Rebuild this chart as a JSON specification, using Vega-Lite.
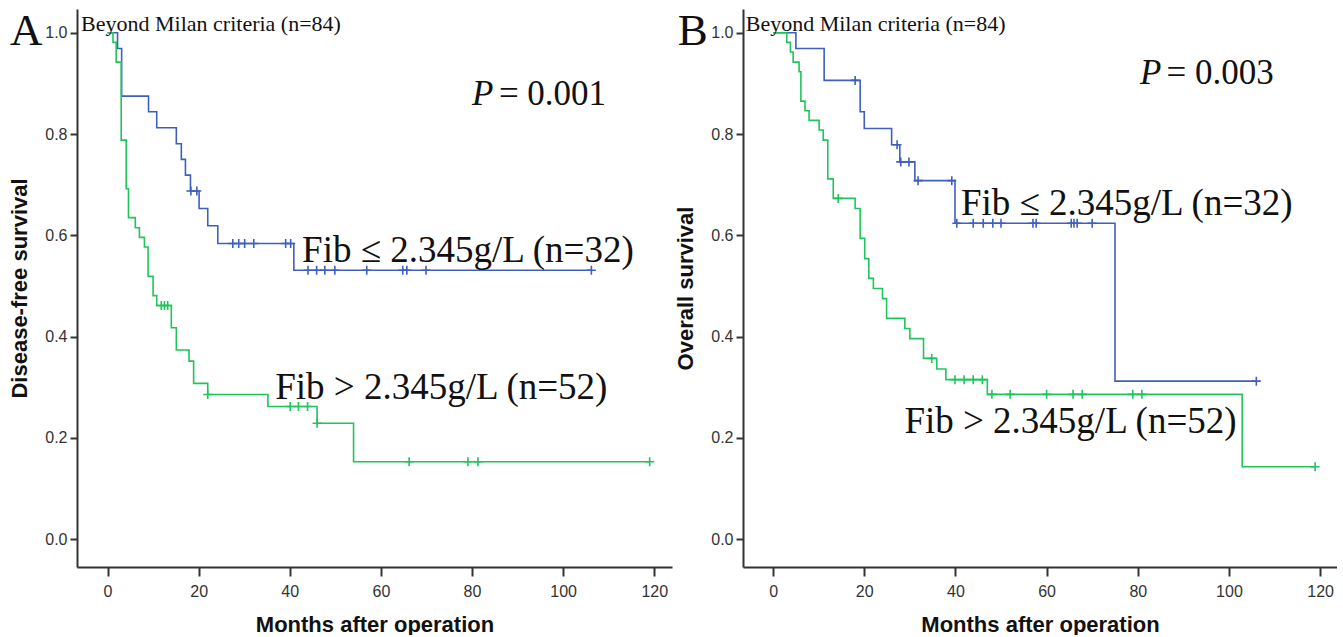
{
  "$schema": "https://vega.github.io/schema/vega-lite/v6.json",
  "autosize": {"type": "pad"},
  "padding": {"left": 8, "top": 9, "right": 0, "bottom": 0},
  "background": "white",
  "bounds": "flush",
  "spacing": 71,
  "datasets": {
    "lines": [
      {"panel": "A", "grp": "low", "t": 0, "s": 1},
      {"panel": "A", "grp": "low", "t": 2.2, "s": 0.969},
      {"panel": "A", "grp": "low", "t": 3.1, "s": 0.875},
      {"panel": "A", "grp": "low", "t": 9.0, "s": 0.844},
      {"panel": "A", "grp": "low", "t": 10.8, "s": 0.8125},
      {"panel": "A", "grp": "low", "t": 15.1, "s": 0.781},
      {"panel": "A", "grp": "low", "t": 16.2, "s": 0.75},
      {"panel": "A", "grp": "low", "t": 17.1, "s": 0.719},
      {"panel": "A", "grp": "low", "t": 18.2, "s": 0.6875},
      {"panel": "A", "grp": "low", "t": 20.1, "s": 0.653},
      {"panel": "A", "grp": "low", "t": 22.0, "s": 0.619},
      {"panel": "A", "grp": "low", "t": 24.2, "s": 0.584},
      {"panel": "A", "grp": "low", "t": 40.9, "s": 0.531},
      {"panel": "A", "grp": "low", "t": 106.2, "s": 0.531},
      {"panel": "A", "grp": "high", "t": 0, "s": 1},
      {"panel": "A", "grp": "high", "t": 1.2, "s": 0.981},
      {"panel": "A", "grp": "high", "t": 1.9, "s": 0.942},
      {"panel": "A", "grp": "high", "t": 3.0, "s": 0.788},
      {"panel": "A", "grp": "high", "t": 4.1, "s": 0.692},
      {"panel": "A", "grp": "high", "t": 4.6, "s": 0.635},
      {"panel": "A", "grp": "high", "t": 6.1, "s": 0.615},
      {"panel": "A", "grp": "high", "t": 7.0, "s": 0.596},
      {"panel": "A", "grp": "high", "t": 8.1, "s": 0.577},
      {"panel": "A", "grp": "high", "t": 8.9, "s": 0.519},
      {"panel": "A", "grp": "high", "t": 10.0, "s": 0.481},
      {"panel": "A", "grp": "high", "t": 10.8, "s": 0.4615},
      {"panel": "A", "grp": "high", "t": 14.0, "s": 0.4176},
      {"panel": "A", "grp": "high", "t": 15.1, "s": 0.3736},
      {"panel": "A", "grp": "high", "t": 17.9, "s": 0.3516},
      {"panel": "A", "grp": "high", "t": 18.9, "s": 0.3077},
      {"panel": "A", "grp": "high", "t": 22.0, "s": 0.2857},
      {"panel": "A", "grp": "high", "t": 35.2, "s": 0.262},
      {"panel": "A", "grp": "high", "t": 46.0, "s": 0.229},
      {"panel": "A", "grp": "high", "t": 54.0, "s": 0.153},
      {"panel": "A", "grp": "high", "t": 119.0, "s": 0.153},
      {"panel": "B", "grp": "low", "t": 0, "s": 1},
      {"panel": "B", "grp": "low", "t": 5.0, "s": 0.969},
      {"panel": "B", "grp": "low", "t": 11.2, "s": 0.906},
      {"panel": "B", "grp": "low", "t": 19.1, "s": 0.844},
      {"panel": "B", "grp": "low", "t": 20.0, "s": 0.811},
      {"panel": "B", "grp": "low", "t": 26.0, "s": 0.779},
      {"panel": "B", "grp": "low", "t": 27.8, "s": 0.745},
      {"panel": "B", "grp": "low", "t": 31.1, "s": 0.708},
      {"panel": "B", "grp": "low", "t": 39.9, "s": 0.624},
      {"panel": "B", "grp": "low", "t": 75.0, "s": 0.312},
      {"panel": "B", "grp": "low", "t": 106.0, "s": 0.312},
      {"panel": "B", "grp": "high", "t": 0, "s": 1},
      {"panel": "B", "grp": "high", "t": 3.0, "s": 0.981},
      {"panel": "B", "grp": "high", "t": 3.8, "s": 0.962},
      {"panel": "B", "grp": "high", "t": 4.4, "s": 0.942},
      {"panel": "B", "grp": "high", "t": 5.7, "s": 0.923},
      {"panel": "B", "grp": "high", "t": 6.1, "s": 0.865},
      {"panel": "B", "grp": "high", "t": 7.0, "s": 0.846},
      {"panel": "B", "grp": "high", "t": 7.9, "s": 0.827},
      {"panel": "B", "grp": "high", "t": 10.1, "s": 0.808},
      {"panel": "B", "grp": "high", "t": 11.0, "s": 0.788},
      {"panel": "B", "grp": "high", "t": 12.0, "s": 0.7115},
      {"panel": "B", "grp": "high", "t": 13.2, "s": 0.673},
      {"panel": "B", "grp": "high", "t": 18.0, "s": 0.653},
      {"panel": "B", "grp": "high", "t": 19.1, "s": 0.594},
      {"panel": "B", "grp": "high", "t": 20.1, "s": 0.554},
      {"panel": "B", "grp": "high", "t": 21.0, "s": 0.515},
      {"panel": "B", "grp": "high", "t": 22.0, "s": 0.495},
      {"panel": "B", "grp": "high", "t": 24.0, "s": 0.475},
      {"panel": "B", "grp": "high", "t": 24.9, "s": 0.436},
      {"panel": "B", "grp": "high", "t": 28.9, "s": 0.416},
      {"panel": "B", "grp": "high", "t": 30.0, "s": 0.396},
      {"panel": "B", "grp": "high", "t": 33.0, "s": 0.357},
      {"panel": "B", "grp": "high", "t": 35.9, "s": 0.336},
      {"panel": "B", "grp": "high", "t": 37.9, "s": 0.315},
      {"panel": "B", "grp": "high", "t": 47.0, "s": 0.286},
      {"panel": "B", "grp": "high", "t": 102.9, "s": 0.143},
      {"panel": "B", "grp": "high", "t": 118.9, "s": 0.143}
    ],
    "cens": [
      {"panel": "A", "grp": "low", "t": 18.3, "s": 0.6875},
      {"panel": "A", "grp": "low", "t": 19.6, "s": 0.6875},
      {"panel": "A", "grp": "low", "t": 27.5, "s": 0.584},
      {"panel": "A", "grp": "low", "t": 28.8, "s": 0.584},
      {"panel": "A", "grp": "low", "t": 30.1, "s": 0.584},
      {"panel": "A", "grp": "low", "t": 32.1, "s": 0.584},
      {"panel": "A", "grp": "low", "t": 39.1, "s": 0.584},
      {"panel": "A", "grp": "low", "t": 40.2, "s": 0.584},
      {"panel": "A", "grp": "low", "t": 44.0, "s": 0.531},
      {"panel": "A", "grp": "low", "t": 45.9, "s": 0.531},
      {"panel": "A", "grp": "low", "t": 47.7, "s": 0.531},
      {"panel": "A", "grp": "low", "t": 49.9, "s": 0.531},
      {"panel": "A", "grp": "low", "t": 56.9, "s": 0.531},
      {"panel": "A", "grp": "low", "t": 64.8, "s": 0.531},
      {"panel": "A", "grp": "low", "t": 65.7, "s": 0.531},
      {"panel": "A", "grp": "low", "t": 69.9, "s": 0.531},
      {"panel": "A", "grp": "low", "t": 106.2, "s": 0.531},
      {"panel": "A", "grp": "high", "t": 11.8, "s": 0.4615},
      {"panel": "A", "grp": "high", "t": 12.5, "s": 0.4615},
      {"panel": "A", "grp": "high", "t": 13.2, "s": 0.4615},
      {"panel": "A", "grp": "high", "t": 22.0, "s": 0.2857},
      {"panel": "A", "grp": "high", "t": 40.1, "s": 0.262},
      {"panel": "A", "grp": "high", "t": 41.9, "s": 0.262},
      {"panel": "A", "grp": "high", "t": 43.9, "s": 0.262},
      {"panel": "A", "grp": "high", "t": 46.0, "s": 0.229},
      {"panel": "A", "grp": "high", "t": 66.2, "s": 0.153},
      {"panel": "A", "grp": "high", "t": 79.1, "s": 0.153},
      {"panel": "A", "grp": "high", "t": 81.3, "s": 0.153},
      {"panel": "A", "grp": "high", "t": 119.0, "s": 0.153},
      {"panel": "B", "grp": "low", "t": 18.0, "s": 0.906},
      {"panel": "B", "grp": "low", "t": 27.2, "s": 0.779},
      {"panel": "B", "grp": "low", "t": 28.0, "s": 0.745},
      {"panel": "B", "grp": "low", "t": 29.8, "s": 0.745},
      {"panel": "B", "grp": "low", "t": 31.8, "s": 0.708},
      {"panel": "B", "grp": "low", "t": 39.2, "s": 0.708},
      {"panel": "B", "grp": "low", "t": 40.3, "s": 0.624},
      {"panel": "B", "grp": "low", "t": 43.9, "s": 0.624},
      {"panel": "B", "grp": "low", "t": 46.1, "s": 0.624},
      {"panel": "B", "grp": "low", "t": 48.2, "s": 0.624},
      {"panel": "B", "grp": "low", "t": 50.0, "s": 0.624},
      {"panel": "B", "grp": "low", "t": 57.0, "s": 0.624},
      {"panel": "B", "grp": "low", "t": 57.7, "s": 0.624},
      {"panel": "B", "grp": "low", "t": 65.4, "s": 0.624},
      {"panel": "B", "grp": "low", "t": 66.0, "s": 0.624},
      {"panel": "B", "grp": "low", "t": 66.7, "s": 0.624},
      {"panel": "B", "grp": "low", "t": 70.0, "s": 0.624},
      {"panel": "B", "grp": "low", "t": 106.0, "s": 0.312},
      {"panel": "B", "grp": "high", "t": 14.3, "s": 0.673},
      {"panel": "B", "grp": "high", "t": 34.8, "s": 0.357},
      {"panel": "B", "grp": "high", "t": 39.9, "s": 0.315},
      {"panel": "B", "grp": "high", "t": 41.9, "s": 0.315},
      {"panel": "B", "grp": "high", "t": 43.9, "s": 0.315},
      {"panel": "B", "grp": "high", "t": 45.9, "s": 0.315},
      {"panel": "B", "grp": "high", "t": 48.0, "s": 0.286},
      {"panel": "B", "grp": "high", "t": 52.0, "s": 0.286},
      {"panel": "B", "grp": "high", "t": 60.0, "s": 0.286},
      {"panel": "B", "grp": "high", "t": 65.8, "s": 0.286},
      {"panel": "B", "grp": "high", "t": 67.8, "s": 0.286},
      {"panel": "B", "grp": "high", "t": 78.9, "s": 0.286},
      {"panel": "B", "grp": "high", "t": 80.9, "s": 0.286},
      {"panel": "B", "grp": "high", "t": 118.9, "s": 0.143}
    ],
    "notes": [
      {"panel": "A", "kind": "letter", "t": -21.4, "s": 0.975, "label": "A"},
      {"panel": "A", "kind": "head", "t": -5.8, "s": 1.004, "label": "Beyond Milan criteria (n=84)"},
      {"panel": "A", "kind": "pital", "t": 80.0, "s": 0.857, "label": "P"},
      {"panel": "A", "kind": "pval", "t": 85.9, "s": 0.857, "label": "= 0.001"},
      {"panel": "A", "kind": "fib", "t": 42.7, "s": 0.547, "label": "Fib ≤ 2.345g/L (n=32)"},
      {"panel": "A", "kind": "fib", "t": 36.8, "s": 0.277, "label": "Fib > 2.345g/L (n=52)"},
      {"panel": "B", "kind": "letter", "t": -20.9, "s": 0.975, "label": "B"},
      {"panel": "B", "kind": "head", "t": -6.0, "s": 1.004, "label": "Beyond Milan criteria (n=84)"},
      {"panel": "B", "kind": "pital", "t": 80.5, "s": 0.899, "label": "P"},
      {"panel": "B", "kind": "pval", "t": 86.3, "s": 0.899, "label": "= 0.003"},
      {"panel": "B", "kind": "fib", "t": 41.2, "s": 0.64, "label": "Fib ≤ 2.345g/L (n=32)"},
      {"panel": "B", "kind": "fib", "t": 28.8, "s": 0.21, "label": "Fib > 2.345g/L (n=52)"}
    ]
  },
  "hconcat": [
    {
      "width": 595,
      "height": 558,
      "layer": [
        {
          "data": {"name": "lines"},
          "transform": [{"filter": "datum.panel === 'A'"}],
          "mark": {"type": "line", "interpolate": "step-after", "strokeWidth": 1.6},
          "encoding": {
            "x": {"field": "t", "type": "quantitative", "scale": {"domain": [-6.7, 123.9], "nice": false, "zero": false}, "axis": {"values": [0, 20, 40, 60, 80, 100, 120], "title": "Months after operation"}},
            "y": {"field": "s", "type": "quantitative", "scale": {"domain": [-0.055, 1.047], "nice": false, "zero": false}, "axis": {"values": [0, 0.2, 0.4, 0.6, 0.8, 1.0], "format": ".1f", "title": "Disease-free survival"}},
            "color": {"field": "grp", "type": "nominal", "scale": {"domain": ["low", "high"], "range": ["#3e5fc0", "#1fc55b"]}, "legend": null}
          }
        },
        {
          "data": {"name": "cens"},
          "transform": [{"filter": "datum.panel === 'A'"}],
          "mark": {"type": "point", "shape": "M-1,0H1M0,-1V1", "size": 81, "strokeWidth": 1.6, "filled": false, "opacity": 1},
          "encoding": {
            "x": {"field": "t", "type": "quantitative"},
            "y": {"field": "s", "type": "quantitative"},
            "color": {"field": "grp", "type": "nominal", "legend": null}
          }
        },
        {
          "data": {"name": "notes"},
          "transform": [{"filter": "datum.panel === 'A' && datum.kind === 'letter'"}],
          "mark": {"type": "text", "font": "Liberation Serif", "fontSize": 45, "align": "left", "baseline": "alphabetic", "color": "#111"},
          "encoding": {"x": {"field": "t", "type": "quantitative"}, "y": {"field": "s", "type": "quantitative"}, "text": {"field": "label"}}
        },
        {
          "data": {"name": "notes"},
          "transform": [{"filter": "datum.panel === 'A' && datum.kind === 'head'"}],
          "mark": {"type": "text", "font": "Liberation Serif", "fontSize": 22, "align": "left", "baseline": "alphabetic", "color": "#111"},
          "encoding": {"x": {"field": "t", "type": "quantitative"}, "y": {"field": "s", "type": "quantitative"}, "text": {"field": "label"}}
        },
        {
          "data": {"name": "notes"},
          "transform": [{"filter": "datum.panel === 'A' && datum.kind === 'pital'"}],
          "mark": {"type": "text", "font": "Liberation Serif", "fontSize": 35, "fontStyle": "italic", "align": "left", "baseline": "alphabetic", "color": "#111"},
          "encoding": {"x": {"field": "t", "type": "quantitative"}, "y": {"field": "s", "type": "quantitative"}, "text": {"field": "label"}}
        },
        {
          "data": {"name": "notes"},
          "transform": [{"filter": "datum.panel === 'A' && datum.kind === 'pval'"}],
          "mark": {"type": "text", "font": "Liberation Serif", "fontSize": 35, "align": "left", "baseline": "alphabetic", "color": "#111"},
          "encoding": {"x": {"field": "t", "type": "quantitative"}, "y": {"field": "s", "type": "quantitative"}, "text": {"field": "label"}}
        },
        {
          "data": {"name": "notes"},
          "transform": [{"filter": "datum.panel === 'A' && datum.kind === 'fib'"}],
          "mark": {"type": "text", "font": "Liberation Serif", "fontSize": 37, "align": "left", "baseline": "alphabetic", "color": "#111"},
          "encoding": {"x": {"field": "t", "type": "quantitative"}, "y": {"field": "s", "type": "quantitative"}, "text": {"field": "label"}}
        }
      ]
    },
    {
      "width": 594,
      "height": 558,
      "layer": [
        {
          "data": {"name": "lines"},
          "transform": [{"filter": "datum.panel === 'B'"}],
          "mark": {"type": "line", "interpolate": "step-after", "strokeWidth": 1.6},
          "encoding": {
            "x": {"field": "t", "type": "quantitative", "scale": {"domain": [-6.6, 123.7], "nice": false, "zero": false}, "axis": {"values": [0, 20, 40, 60, 80, 100, 120], "title": "Months after operation"}},
            "y": {"field": "s", "type": "quantitative", "scale": {"domain": [-0.055, 1.047], "nice": false, "zero": false}, "axis": {"values": [0, 0.2, 0.4, 0.6, 0.8, 1.0], "format": ".1f", "title": "Overall survival"}},
            "color": {"field": "grp", "type": "nominal", "scale": {"domain": ["low", "high"], "range": ["#3e5fc0", "#1fc55b"]}, "legend": null}
          }
        },
        {
          "data": {"name": "cens"},
          "transform": [{"filter": "datum.panel === 'B'"}],
          "mark": {"type": "point", "shape": "M-1,0H1M0,-1V1", "size": 81, "strokeWidth": 1.6, "filled": false, "opacity": 1},
          "encoding": {
            "x": {"field": "t", "type": "quantitative"},
            "y": {"field": "s", "type": "quantitative"},
            "color": {"field": "grp", "type": "nominal", "legend": null}
          }
        },
        {
          "data": {"name": "notes"},
          "transform": [{"filter": "datum.panel === 'B' && datum.kind === 'letter'"}],
          "mark": {"type": "text", "font": "Liberation Serif", "fontSize": 45, "align": "left", "baseline": "alphabetic", "color": "#111"},
          "encoding": {"x": {"field": "t", "type": "quantitative"}, "y": {"field": "s", "type": "quantitative"}, "text": {"field": "label"}}
        },
        {
          "data": {"name": "notes"},
          "transform": [{"filter": "datum.panel === 'B' && datum.kind === 'head'"}],
          "mark": {"type": "text", "font": "Liberation Serif", "fontSize": 22, "align": "left", "baseline": "alphabetic", "color": "#111"},
          "encoding": {"x": {"field": "t", "type": "quantitative"}, "y": {"field": "s", "type": "quantitative"}, "text": {"field": "label"}}
        },
        {
          "data": {"name": "notes"},
          "transform": [{"filter": "datum.panel === 'B' && datum.kind === 'pital'"}],
          "mark": {"type": "text", "font": "Liberation Serif", "fontSize": 35, "fontStyle": "italic", "align": "left", "baseline": "alphabetic", "color": "#111"},
          "encoding": {"x": {"field": "t", "type": "quantitative"}, "y": {"field": "s", "type": "quantitative"}, "text": {"field": "label"}}
        },
        {
          "data": {"name": "notes"},
          "transform": [{"filter": "datum.panel === 'B' && datum.kind === 'pval'"}],
          "mark": {"type": "text", "font": "Liberation Serif", "fontSize": 35, "align": "left", "baseline": "alphabetic", "color": "#111"},
          "encoding": {"x": {"field": "t", "type": "quantitative"}, "y": {"field": "s", "type": "quantitative"}, "text": {"field": "label"}}
        },
        {
          "data": {"name": "notes"},
          "transform": [{"filter": "datum.panel === 'B' && datum.kind === 'fib'"}],
          "mark": {"type": "text", "font": "Liberation Serif", "fontSize": 37, "align": "left", "baseline": "alphabetic", "color": "#111"},
          "encoding": {"x": {"field": "t", "type": "quantitative"}, "y": {"field": "s", "type": "quantitative"}, "text": {"field": "label"}}
        }
      ]
    }
  ],
  "config": {
    "view": {"stroke": null},
    "axis": {
      "grid": false,
      "domainColor": "#333",
      "domainWidth": 2,
      "tickColor": "#333",
      "tickWidth": 2,
      "labelFont": "Liberation Sans",
      "labelFontSize": 16,
      "labelColor": "#333",
      "labelFlush": false,
      "titleFont": "Liberation Sans",
      "titleFontSize": 22,
      "titleFontWeight": "bold",
      "titleColor": "#111"
    },
    "axisX": {"tickSize": 9, "labelPadding": 7, "titlePadding": 15},
    "axisY": {"tickSize": 7, "labelPadding": 3, "titlePadding": 13}
  }
}
